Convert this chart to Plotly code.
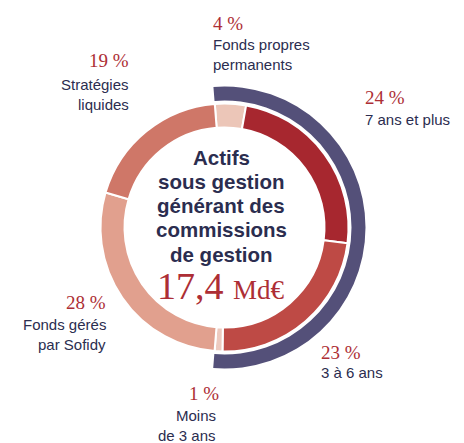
import plotly.graph_objects as go

# ---- data ----
categories = ["Fonds propres permanents", "7 ans et plus", "3 à 6 ans",
              "Moins de 3 ans", "Fonds gérés par Sofidy", "Stratégies liquides"]
values = [4, 24, 23, 1, 28, 19]
pct_labels = ["4 %", "24 %", "23 %", "1 %", "28 %", "19 %"]
desc_lines = [["Fonds propres", "permanents"], ["7 ans et plus"], ["3 à 6 ans"],
              ["Moins", "de 3 ans"], ["Fonds gérés", "par Sofidy"], ["Stratégies", "liquides"]]
outer_values = [sum(values[:4]), sum(values[4:])]  # arc over the first four slices
center_lines = ["Actifs", "sous gestion", "générant des", "commissions", "de gestion"]
total_value = "17,4"
total_unit = "Md€"

colors = ["#ECC6B8", "#A7272F", "#BE4A45", "#EDCABF", "#E1A08E", "#CF7768"]
navy = "#545079"
red_txt = "#AD2E35"
dark_txt = "#2B2D4F"

W, H = 464, 443
def px(x):
    return x / W
def py(y):
    return 1 - y / H

cx, cy = 224.5, 227.5
r_in, r_out = 124, 141
rot = -4.5

fig = go.Figure()
fig.add_trace(go.Pie(
    labels=categories, values=values, sort=False, direction="clockwise",
    rotation=rot, hole=100 / 124,
    marker=dict(colors=colors, line=dict(color="white", width=2)),
    textinfo="none", hoverinfo="label+percent",
    domain=dict(x=[px(cx - r_in), px(cx + r_in)], y=[py(cy + r_in), py(cy - r_in)]),
))
fig.add_trace(go.Pie(
    labels=["arc", "rest"], values=outer_values, sort=False, direction="clockwise",
    rotation=rot, hole=127 / 141,
    marker=dict(colors=[navy, "rgba(0,0,0,0)"], line=dict(width=0)),
    textinfo="none", hoverinfo="skip",
    domain=dict(x=[px(cx - r_out), px(cx + r_out)], y=[py(cy + r_out), py(cy - r_out)]),
))

ann = []
SERIF = "Liberation Serif"
SANS = "Liberation Sans"

def add(text, x, baseline, size, color, family, anchor):
    ann.append(dict(text=text, x=px(x), y=py(baseline - 0.34 * size), xref="paper", yref="paper",
                    xanchor=anchor, yanchor="middle", showarrow=False, borderpad=0,
                    font=dict(size=size, color=color, family=family)))

# label positions: (x, anchor, pct baseline, first desc baseline)
label_pos = [
    (212, "left", 30, 50),
    (364, "left", 104, 125),
    (320, "left", 359, 378),
    (220, "right", 400, 421),
    (107, "right", 309, 330),
    (130, "right", 67, 90),
]
for i, (x, anc, bp, bd) in enumerate(label_pos):
    add(pct_labels[i], x, bp, 19, red_txt, SERIF, anc)
    for j, line in enumerate(desc_lines[i]):
        xx = x - 3 if anc == "right" and i == 3 else x
        add(line, xx, bd + j * 19.5, 15, dark_txt, SANS, anc)

for j, line in enumerate(center_lines):
    add("<b>" + line + "</b>", 221, 164 + j * 24.3, 20.5, dark_txt, SANS, "center")

add(total_value + " <span style='font-size:27px'>" + total_unit + "</span>",
    221, 299, 38, red_txt, SERIF, "center")

fig.update_layout(width=W, height=H, margin=dict(l=0, r=0, t=0, b=0),
                  paper_bgcolor="white", plot_bgcolor="white", showlegend=False,
                  annotations=ann)
fig.write_html("out.html", config={"displayModeBar": False},
               post_script="document.body.style.margin='0';document.body.style.padding='0';")
